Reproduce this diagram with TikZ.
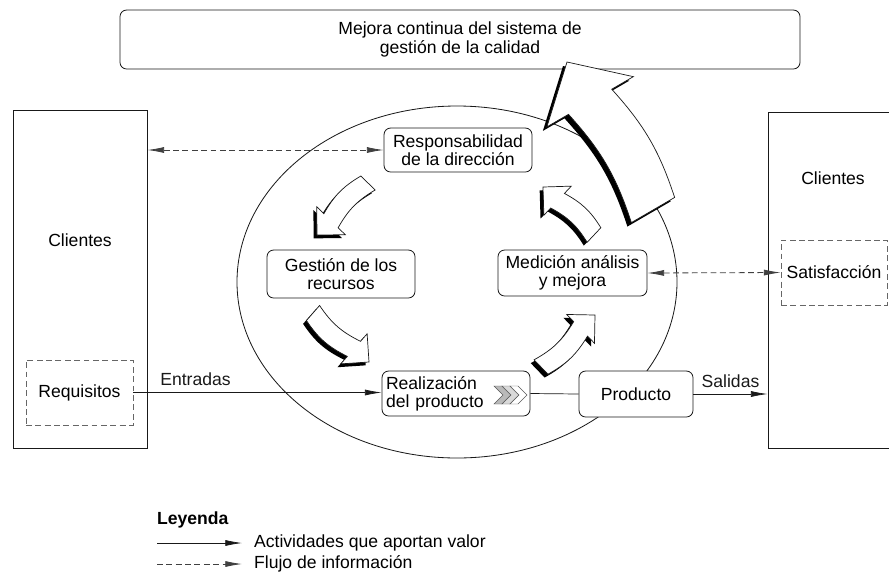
\documentclass[tikz,border=0pt]{standalone}
\usepackage{fontspec}
\setmainfont{Liberation Sans}
\usepackage{xcolor}
\usepackage{tikz}
\definecolor{lin}{rgb}{0.1,0.1,0.1}
\definecolor{dsh}{rgb}{0.25,0.25,0.25}
\usetikzlibrary{calc,positioning,arrows.meta,shadows}

\tikzset{
  texto/.style={font=\fontsize{15}{15.5}\selectfont},
  caja/.style={texto, draw=lin, fill=white, rounded corners=0.2cm, line width=0.7pt, align=center, inner sep=0pt},
  cliente/.style={draw=lin, line width=0.7pt, inner sep=0pt},
  punteada/.style={texto, draw=dsh!80, dash pattern=on 5pt off 3pt, line width=0.7pt, inner sep=0pt},
  punta/.tip={Latex[length=5mm,width=1.8mm]},
  flujo/.style={lin, line width=0.6pt, -punta},
  info/.style={dsh, dash pattern=on 5pt off 3pt, line width=0.7pt, punta-punta},
  infoley/.style={dsh, dash pattern=on 5pt off 3pt, line width=0.7pt, -punta},
  flecha/.style={draw=lin, fill=white, line width=0.6pt},
}

% tail, tip, half width, head half width, head length, bend, shadow
\newcommand{\blockarrow}[7]{%
  \coordinate (ba-b) at ($(#2)!#5*0.03cm!(#1)$);
  \coordinate (ba-t1) at ($(#1)!#3*0.03cm!90:(#2)$);
  \coordinate (ba-t2) at ($(#1)!#3*0.03cm!-90:(#2)$);
  \coordinate (ba-b1) at ($(ba-b)!#3*0.03cm!90:(#2)$);
  \coordinate (ba-b2) at ($(ba-b)!#3*0.03cm!-90:(#2)$);
  \coordinate (ba-h1) at ($(ba-b)!#4*0.03cm!90:(#2)$);
  \coordinate (ba-h2) at ($(ba-b)!#4*0.03cm!-90:(#2)$);
  \filldraw[flecha, drop shadow={shadow xshift=-#7, shadow yshift=-#7, fill=black, opacity=1}]
    (ba-t1) to[bend right=#6] (ba-b1) -- (ba-h1) -- (#2) -- (ba-h2) -- (ba-b2) to[bend left=#6] (ba-t2) -- cycle;
}

\begin{document}
\begin{tikzpicture}[x=0.03cm,y=-0.03cm]
\useasboundingbox (0,0) rectangle (889,574);

\draw [lin, line width=0.7pt] (457,282) ellipse [x radius=220, y radius=176]; % circle

\node[caja, minimum width=20.4cm, minimum height=1.77cm, font=\fontsize{15}{16}\selectfont] (mejora) at (460,39.5) {Mejora continua del sistema de\\gestión de la calidad};

% clientes
\node[cliente, minimum width=4.02cm, minimum height=10.14cm] (cliL) at (80,279) {};
\node[texto] (cliLtxt) at (80,240) {Clientes};
\node[punteada, minimum width=3.21cm, minimum height=1.95cm] (req) at (79.5,392.5) {Requisitos};
\node[cliente, minimum width=3.81cm, minimum height=10.08cm] (cliR) at (831.5,280) {};
\node[texto] (cliRtxt) at (833,178) {Clientes};
\node[punteada, minimum width=3.18cm, minimum height=1.95cm] (sat) at (834,272.5) {Satisfacción};

% procesos
\node[caja, minimum width=4.44cm, minimum height=1.32cm] (resp) at (458,150) {Responsabilidad\\de la dirección};
\node[caja, minimum width=4.44cm, minimum height=1.44cm] (gest) at (341,274) {Gestión de los\\recursos};
\node[caja, minimum width=4.47cm, minimum height=1.38cm] (medi) at (572.5,273) {Medición análisis\\y mejora};
\node[caja, minimum width=4.44cm, minimum height=1.35cm, align=left, text width=4.2cm] (real) at (456,393.5) {Realización\\del producto};
\node[caja, minimum width=3.42cm, minimum height=1.38cm] (prod) at (636,394) {Producto};

% chevrons
\foreach \x/\c in {494/gray!55, 502/gray!30, 510/white}
  \filldraw[draw=gray!70!black, fill=\c, line width=0.4pt] (\x,386) -- (\x+8,386) -- (\x+17,395) -- (\x+8,404) -- (\x,404) -- (\x+9,395) -- cycle;

% flujos
\draw [info] (cliL.east |- resp.west) -- (resp.west);
\draw [info] (medi.east) -- (sat.west);
\draw [flujo] (req.east) -- (req.east -| real.west) node[texto, pos=0.25, above=2pt] (entr) {Entradas};
\draw [lin, line width=0.6pt] (real.east) -- (prod.west);
\draw [flujo] (prod.east) -- (prod.east -| cliR.west) node[texto, midway, above=2pt] (sal) {Salidas};

% flechas
\blockarrow{653,210}{567,62}{25}{50}{46}{12}{0.12cm} % mejora
\blockarrow{368,183}{317,235}{10}{20}{20}{15}{0.1cm}
\blockarrow{313,313}{369,362}{10}{20}{20}{15}{0.1cm}
\blockarrow{541,367}{595,315}{10}{20}{20}{15}{0.1cm}
\blockarrow{594,235}{543,187}{10}{20}{20}{15}{0.1cm}

% leyenda
\node[texto, font=\fontsize{15}{15.5}\selectfont\bfseries, anchor=west] (ley) at (153,520) {Leyenda};
\coordinate (l1a) at (157,543);
\coordinate (l1b) at (242,543);
\coordinate (l2a) at (157,564);
\coordinate (l2b) at (242,564);
\draw [flujo] (l1a) -- (l1b);
\draw [infoley] (l2a) -- (l2b);
\node[texto, anchor=west] (l1t) at (250,543) {Actividades que aportan valor};
\node[texto, anchor=west] (l2t) at (250,564) {Flujo de información};
\end{tikzpicture}
\end{document}
